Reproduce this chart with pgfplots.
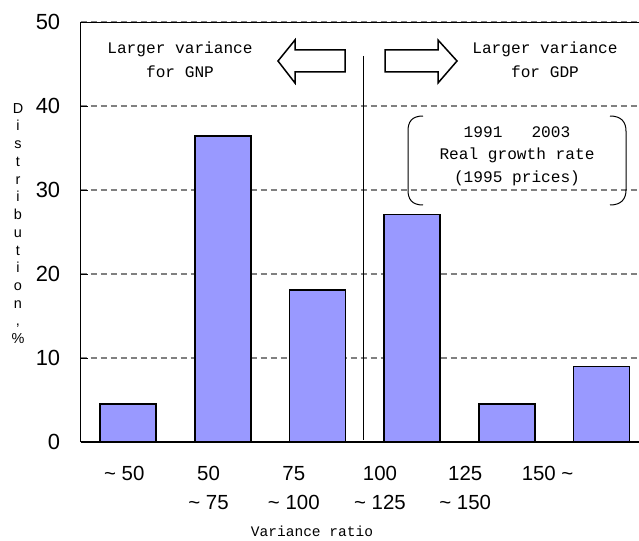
\documentclass[border=0pt]{standalone}
\usepackage{fontspec}
\setmainfont{Liberation Sans}
\newfontfamily\mono{Liberation Mono}
\usepackage{pgfplots}
\pgfplotsset{compat=1.18}

\definecolor{barblue}{RGB}{153,153,255}
\definecolor{gridgray}{RGB}{128,128,128}

\begin{document}
\begin{tikzpicture}
\begin{axis}[
    scale only axis,
    width=558.3bp, height=420bp,
    xmin=-0.5, xmax=5.395,
    ymin=0, ymax=50,
    ybar, bar width=56bp,
    axis line style={draw=none},
    ytick={0,10,20,30,40,50},
    ytick pos=left,
    tick align=inside,
    major tick length=7bp,
    ytick style={black, line width=0.8bp},
    ymajorgrids=true,
    grid style={gridgray, dash pattern=on 6bp off 4bp, line width=1.2bp},
    xtick={-0.04,0.85,1.75,2.66,3.56,4.43},
    xtick style={draw=none},
    xticklabels={{\textasciitilde{} 50},{50\\\textasciitilde{} 75},{75\\\textasciitilde{} 100},{100\\\textasciitilde{} 125},{125\\\textasciitilde{} 150},{150 \textasciitilde}},
    xticklabel style={font=\fontsize{20.5}{29}\selectfont, align=center, yshift=-21bp},
    yticklabel style={font=\fontsize{22}{24}\selectfont, xshift=-17bp},
    /pgf/number format/assume math mode=true,
    clip=false,
]
\addplot[fill=barblue, draw=black, line width=1.5bp]
  coordinates {(0,4.5) (1,36.4) (2,18.1) (3,27.1) (4,4.5) (5,9.0)};
\coordinate (O) at (rel axis cs:0,0);
\end{axis}

\begin{scope}[shift={(O)}, x=1bp, y=1bp]
  % frame: left, bottom, top
  \draw[black, line width=1bp] (0,420) -- (0,0);
  \draw[black, line width=1.5bp] (0,0) -- (558.3,0);
  \draw[black, line width=0.8bp] (0,420) -- (558.3,420);
  % divider
  \draw[black, line width=1.2bp] (282.8,386) -- (282.8,2);
  % left arrow
  \draw[black, line width=1.5bp, fill=white]
    (197.3,381) -- (214.3,402) -- (214.3,392) -- (264.3,392) -- (264.3,370)
    -- (214.3,370) -- (214.3,359) -- cycle;
  % right arrow
  \draw[black, line width=1.5bp, fill=white]
    (376.3,381) -- (357.3,402) -- (357.3,392) -- (304.3,392) -- (304.3,370)
    -- (357.3,370) -- (357.3,359) -- cycle;
  \node[font=\mono\fontsize{16.2}{24}\selectfont, align=center] at (99.3,382)
    {Larger variance\\for GNP};
  \node[font=\mono\fontsize{16.2}{24}\selectfont, align=center] at (464.3,382)
    {Larger variance\\for GDP};
  % bracket box
  \draw[black, line width=1bp] (342.3,326) .. controls (331,326) and (327.3,320) .. (327.3,311)
    -- (327.3,252) .. controls (327.3,243) and (331,237) .. (342.3,237);
  \draw[black, line width=1bp] (529.3,326) .. controls (540.6,326) and (545.3,320) .. (545.3,311)
    -- (545.3,252) .. controls (545.3,243) and (540.6,237) .. (529.3,237);
  \node[font=\mono\fontsize{16.2}{22.5}\selectfont, align=center] at (436.3,286)
    {1991\ \ \ 2003\\Real growth rate\\(1995 prices)};
  % axis titles
  \node[font=\mono\fontsize{14.6}{16}\selectfont] at (231.3,-89) {Variance ratio};
  \node[font=\fontsize{14.5}{17.8}\selectfont, align=center] at (-62.7,218.5)
    {D\\i\\s\\t\\r\\i\\b\\u\\t\\i\\o\\n\\,\\\%};
\end{scope}

\pgfresetboundingbox
\path[use as bounding box] (O) ++(-80.7bp,-99bp) rectangle ++(639bp,541bp);
\end{tikzpicture}
\end{document}
